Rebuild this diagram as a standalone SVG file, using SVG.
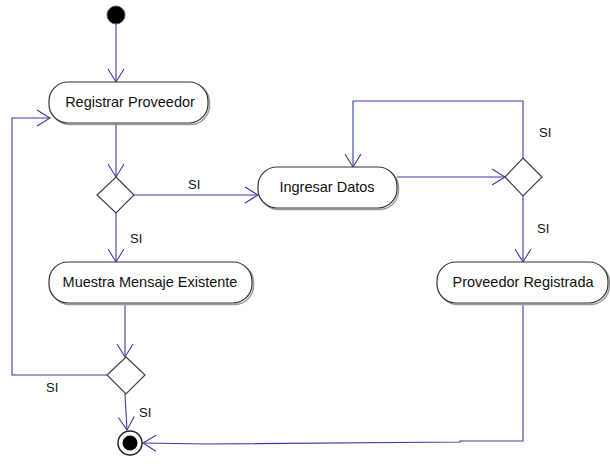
<svg xmlns="http://www.w3.org/2000/svg" width="610" height="464" viewBox="0 0 610 464">
  <style>
    .act { fill: #ffffff; stroke: #333333; stroke-width: 1.2; }
    .shadow { fill: none; stroke: #9a9a9a; stroke-width: 1.5; }
    .dec { fill: #ffffff; stroke: #404040; stroke-width: 1.2; }
    .lbl { font-family: "Liberation Sans", Arial, sans-serif; font-size: 14.5px; fill: #111111; }
    .edge { fill: none; stroke: #3b3ba6; stroke-width: 1.1; }
    .elbl { font-family: "Liberation Sans", Arial, sans-serif; font-size: 13px; fill: #111111; }
  </style>
  <defs>
    <marker id="open" viewBox="-14 -9 16 18" refX="0" refY="0" markerWidth="16" markerHeight="18" markerUnits="userSpaceOnUse" orient="auto">
      <path d="M-13,-8 L0,0 L-13,8" fill="none" stroke="#3b3ba6" stroke-width="1.1"/>
    </marker>
  </defs>
  <rect width="610" height="464" fill="#ffffff"/>

  <g id="connectors">
    <path class="edge" d="M116,24 L116,82" marker-end="url(#open)"/>
    <path class="edge" d="M116,123 L116,177" marker-end="url(#open)"/>
    <path class="edge" d="M134,195 L258,195" marker-end="url(#open)"/>
    <text class="elbl" x="188" y="189">SI</text>
    <path class="edge" d="M116,213 L116,262" marker-end="url(#open)"/>
    <text class="elbl" x="130" y="243">SI</text>
    <path class="edge" d="M397,177 L505,177" marker-end="url(#open)"/>
    <path class="edge" d="M523,158 L523,101 L353,101 L353,167" marker-end="url(#open)"/>
    <text class="elbl" x="539" y="137">SI</text>
    <path class="edge" d="M523,196 L523,262" marker-end="url(#open)"/>
    <text class="elbl" x="537" y="233">SI</text>
    <path class="edge" d="M125,304 L125,357" marker-end="url(#open)"/>
    <path class="edge" d="M107,375 L12,375 L12,118 L50,118" marker-end="url(#open)"/>
    <text class="elbl" x="46" y="392">SI</text>
    <path class="edge" d="M125,394 L127,430" marker-end="url(#open)"/>
    <text class="elbl" x="139" y="417">SI</text>
    <path class="edge" d="M523,304 L523,441 L460,441 L460,442 L207,444 L143,443" marker-end="url(#open)"/>
  </g>

  <g id="start">
    <circle cx="116" cy="15" r="9" fill="#000000" stroke="#555555" stroke-width="1"/>
  </g>

  <g id="registrar-proveedor">
    <rect class="shadow" x="50.5" y="83.5" width="159" height="41" rx="19"/>
    <rect class="act" x="49" y="82" width="159" height="41" rx="19"/>
    <text class="lbl" x="130" y="107" text-anchor="middle">Registrar Proveedor</text>
  </g>

  <g id="decision-1">
    <polygon class="dec" points="116,177 134,195 116,213 97,195"/>
  </g>

  <g id="ingresar-datos">
    <rect class="shadow" x="259.5" y="168.5" width="139" height="41" rx="19"/>
    <rect class="act" x="258" y="167" width="139" height="41" rx="19"/>
    <text class="lbl" x="327" y="192" text-anchor="middle">Ingresar Datos</text>
  </g>

  <g id="decision-2">
    <polygon class="dec" points="523,158 542,177 523,196 505,177"/>
  </g>

  <g id="muestra-mensaje">
    <rect class="shadow" x="50.5" y="263.5" width="203" height="41" rx="19"/>
    <rect class="act" x="49" y="262" width="203" height="41" rx="19"/>
    <text class="lbl" x="150" y="287" text-anchor="middle">Muestra Mensaje Existente</text>
  </g>

  <g id="proveedor-registrada">
    <rect class="shadow" x="438.5" y="263.5" width="171" height="41" rx="19"/>
    <rect class="act" x="437" y="262" width="171" height="41" rx="19"/>
    <text class="lbl" x="523" y="287" text-anchor="middle">Proveedor Registrada</text>
  </g>

  <g id="decision-3">
    <polygon class="dec" points="126,357 145,375 126,394 107,375"/>
  </g>

  <g id="end">
    <circle cx="130" cy="443" r="12" fill="#ffffff" stroke="#222222" stroke-width="1.5"/>
    <circle cx="130" cy="443" r="7.5" fill="#000000"/>
  </g>
</svg>
